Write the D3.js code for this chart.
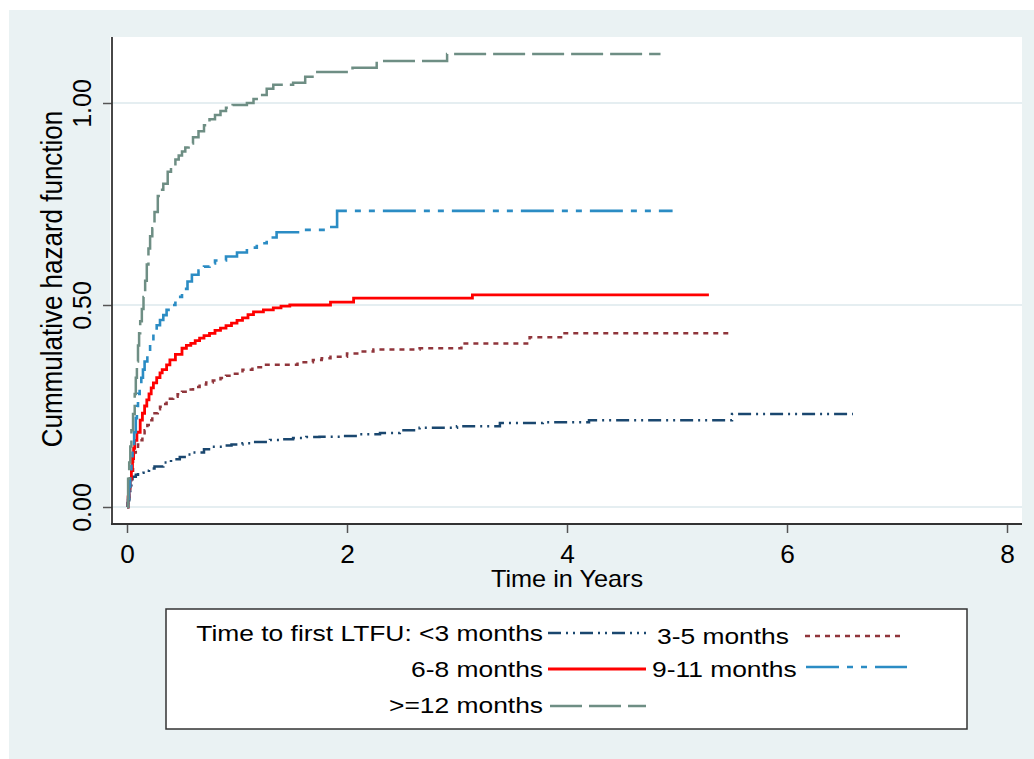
<!DOCTYPE html>
<html><head><meta charset="utf-8">
<script src="https://cdn.jsdelivr.net/npm/d3@7"></script>
<style>body{margin:0;background:#fff;} text{font-family:"Liberation Sans",Arial,sans-serif;fill:#000;}</style>
</head><body>
<svg id="c" width="1034" height="759"></svg>
<script>
// ---- data (time in years, cumulative hazard) ----
const seriesNames = ["<3 months","3-5 months","6-8 months","9-11 months",">=12 months"];
const lt3 = [[0,0],[0.005,0.01],[0.01,0.017],[0.02,0.03],[0.03,0.05],[0.04,0.065],[0.05,0.075],[0.08,0.08],[0.1,0.085],[0.15,0.09],[0.2,0.095],[0.25,0.1],[0.33,0.11],[0.4,0.118],[0.48,0.124],[0.54,0.13],[0.6,0.135],[0.7,0.143],[0.78,0.149],[0.87,0.152],[0.95,0.155],[1.05,0.158],[1.15,0.161],[1.3,0.166],[1.4,0.168],[1.51,0.171],[1.63,0.173],[1.75,0.174],[1.94,0.176],[2.1,0.18],[2.3,0.183],[2.48,0.19],[2.66,0.196],[3.0,0.2],[3.39,0.208],[3.78,0.21],[4.2,0.215],[5.5,0.23],[6.6,0.23]];
const m35 = [[0,0],[0.01,0.02],[0.02,0.04],[0.03,0.06],[0.04,0.09],[0.055,0.12],[0.065,0.135],[0.08,0.145],[0.1,0.155],[0.12,0.165],[0.14,0.178],[0.16,0.19],[0.185,0.203],[0.21,0.215],[0.23,0.224],[0.25,0.232],[0.28,0.242],[0.30,0.248],[0.33,0.255],[0.36,0.262],[0.39,0.268],[0.42,0.273],[0.46,0.279],[0.5,0.285],[0.55,0.291],[0.6,0.297],[0.66,0.303],[0.72,0.308],[0.78,0.313],[0.85,0.319],[0.9,0.325],[0.95,0.33],[1.05,0.34],[1.14,0.346],[1.24,0.352],[1.55,0.358],[1.69,0.364],[1.77,0.368],[1.85,0.372],[2.0,0.38],[2.12,0.385],[2.24,0.39],[2.66,0.393],[3.04,0.405],[3.66,0.42],[3.96,0.43],[5.51,0.43]];
const m68 = [[0,0],[0.01,0.025],[0.02,0.05],[0.03,0.07],[0.04,0.09],[0.05,0.12],[0.06,0.145],[0.07,0.165],[0.09,0.185],[0.12,0.215],[0.14,0.232],[0.16,0.25],[0.18,0.265],[0.2,0.28],[0.22,0.295],[0.24,0.307],[0.27,0.32],[0.3,0.332],[0.32,0.34],[0.36,0.352],[0.39,0.364],[0.44,0.378],[0.5,0.393],[0.54,0.4],[0.58,0.405],[0.62,0.412],[0.66,0.418],[0.7,0.424],[0.75,0.43],[0.8,0.437],[0.85,0.443],[0.9,0.449],[0.95,0.455],[1.0,0.462],[1.05,0.468],[1.1,0.476],[1.15,0.483],[1.24,0.488],[1.33,0.493],[1.4,0.497],[1.48,0.5],[1.85,0.507],[2.06,0.517],[3.14,0.525],[5.29,0.525]];
const m911 = [[0,0],[0.01,0.02],[0.02,0.05],[0.03,0.09],[0.04,0.12],[0.05,0.15],[0.065,0.185],[0.08,0.22],[0.09,0.25],[0.1,0.28],[0.115,0.3],[0.13,0.32],[0.145,0.34],[0.16,0.36],[0.185,0.385],[0.21,0.41],[0.24,0.43],[0.27,0.45],[0.3,0.463],[0.33,0.475],[0.36,0.488],[0.39,0.5],[0.44,0.52],[0.5,0.54],[0.55,0.558],[0.59,0.575],[0.65,0.585],[0.7,0.595],[0.75,0.603],[0.8,0.61],[0.9,0.62],[1.0,0.63],[1.09,0.642],[1.18,0.653],[1.27,0.667],[1.36,0.68],[1.57,0.686],[1.82,0.693],[1.91,0.733],[4.96,0.733]];
const ge12 = [[0,0],[0.01,0.07],[0.02,0.11],[0.03,0.15],[0.04,0.19],[0.055,0.23],[0.07,0.28],[0.08,0.32],[0.09,0.36],[0.1,0.4],[0.11,0.43],[0.12,0.46],[0.135,0.49],[0.15,0.52],[0.165,0.56],[0.18,0.6],[0.195,0.64],[0.21,0.67],[0.23,0.69],[0.25,0.73],[0.28,0.77],[0.3,0.785],[0.33,0.8],[0.37,0.83],[0.4,0.845],[0.44,0.86],[0.47,0.87],[0.5,0.88],[0.53,0.89],[0.56,0.9],[0.6,0.915],[0.65,0.93],[0.7,0.945],[0.75,0.96],[0.8,0.97],[0.85,0.98],[0.9,0.988],[0.96,0.995],[1.09,1.0],[1.15,1.01],[1.2,1.02],[1.27,1.035],[1.33,1.045],[1.51,1.05],[1.62,1.065],[1.73,1.077],[2.05,1.087],[2.27,1.104],[2.91,1.121],[4.85,1.121]];
const xTicks = [0,2,4,6,8];
const yTicks = [0,0.5,1.0];
const yTickLabels = ["0.00","0.50","1.00"];

// ---- styles ----
const styles = [
  {color:"#1a476f", dash:"13,5,2,5,2,5", w:2.5},
  {color:"#90353b", dash:"5,5", w:2.5},
  {color:"#ff0000", dash:null, w:2.8},
  {color:"#2b8cc4", dash:"33,8,6,8,6,8", w:2.6},
  {color:"#6e8e84", dash:"32,7", w:2.5}
];
const allSeries = [lt3,m35,m68,m911,ge12];

const svg = d3.select("#c");
svg.append("rect").attr("x",9).attr("y",10).attr("width",1025).attr("height",749).attr("fill","#eaf2f3");
svg.append("rect").attr("x",110).attr("y",37).attr("width",912).attr("height",486).attr("fill","#ffffff");

const x = d3.scaleLinear().domain([0,8]).range([127,1007]);
const y = d3.scaleLinear().domain([0,1]).range([507,103]);

// gridlines
svg.append("g").selectAll("line").data(yTicks).join("line")
  .attr("x1",112).attr("x2",1022).attr("y1",d=>y(d)).attr("y2",d=>y(d))
  .attr("stroke","#dde8ec").attr("stroke-width",1.5);

// axes
const xAxis = svg.append("g").attr("transform","translate(0,524)")
  .call(d3.axisBottom(x).tickValues(xTicks).tickFormat(d3.format("d")).tickSize(9).tickSizeOuter(0));
xAxis.select(".domain").remove();
xAxis.selectAll(".tick line").attr("stroke","#555").attr("stroke-width",1.5);
xAxis.selectAll(".tick text").remove();
xAxis.selectAll(".tick").append("text")
  .attr("transform","translate(0,39) scale(1.05,1)")
  .attr("text-anchor","middle").style("font-size","25px").text(d=>d);

const yAxis = svg.append("g").attr("transform","translate(112,0)")
  .call(d3.axisLeft(y).tickValues(yTicks).tickSize(9).tickSizeOuter(0));
yAxis.select(".domain").remove();
yAxis.selectAll(".tick line").attr("stroke","#555").attr("stroke-width",1.5);
yAxis.selectAll(".tick text").remove();
yAxis.selectAll(".tick").append("text")
  .attr("transform","translate(-21,0) rotate(-90)")
  .attr("text-anchor","middle").style("font-size","25px").text((d,i)=>yTickLabels[i]);

svg.append("line").attr("x1",112).attr("x2",112).attr("y1",37).attr("y2",524.5).attr("stroke","#333").attr("stroke-width",1.8);
svg.append("line").attr("x1",111).attr("x2",1022).attr("y1",524).attr("y2",524).attr("stroke","#333").attr("stroke-width",1.8);

// titles
svg.append("text").attr("transform","translate(567,587) scale(1.1,1)").attr("text-anchor","middle")
  .style("font-size","23px").text("Time in Years");
svg.append("text").attr("transform","translate(62,279) scale(1.16,1) rotate(-90)").attr("text-anchor","middle")
  .style("font-size","26px").text("Cummulative hazard function");

// lines
const line = d3.line().x(d=>x(d[0])).y(d=>y(d[1])).curve(d3.curveStepAfter);
allSeries.forEach((s,i)=>{
  svg.append("path").datum(s).attr("d",line).attr("fill","none")
    .attr("stroke",styles[i].color).attr("stroke-width",styles[i].w)
    .attr("stroke-dasharray",styles[i].dash);
});

// legend
svg.append("rect").attr("x",166).attr("y",609).attr("width",801).attr("height",120)
  .attr("fill","#fff").attr("stroke","#333").attr("stroke-width",1.5);
const legendItems = [
  {label:"Time to first LTFU: <3 months", tx:543, anchor:"end", ty:641, lx1:548, lx2:646, ly:633},
  {label:"3-5 months", tx:657, anchor:"start", ty:644, lx1:805, lx2:903, ly:636},
  {label:"6-8 months", tx:543, anchor:"end", ty:677, lx1:548, lx2:646, ly:669},
  {label:"9-11 months", tx:652, anchor:"start", ty:677, lx1:806, lx2:907, ly:667},
  {label:">=12 months", tx:543, anchor:"end", ty:713, lx1:550, lx2:646, ly:706}
];
legendItems.forEach((it,i)=>{
  svg.append("text").attr("transform",`translate(${it.tx},${it.ty}) scale(1.2,1)`)
    .attr("text-anchor",it.anchor).style("font-size","22px").text(it.label);
  svg.append("line").attr("x1",it.lx1).attr("x2",it.lx2).attr("y1",it.ly).attr("y2",it.ly)
    .attr("stroke",styles[i].color).attr("stroke-width",styles[i].w)
    .attr("stroke-dasharray",styles[i].dash);
});
</script>
</body></html>
